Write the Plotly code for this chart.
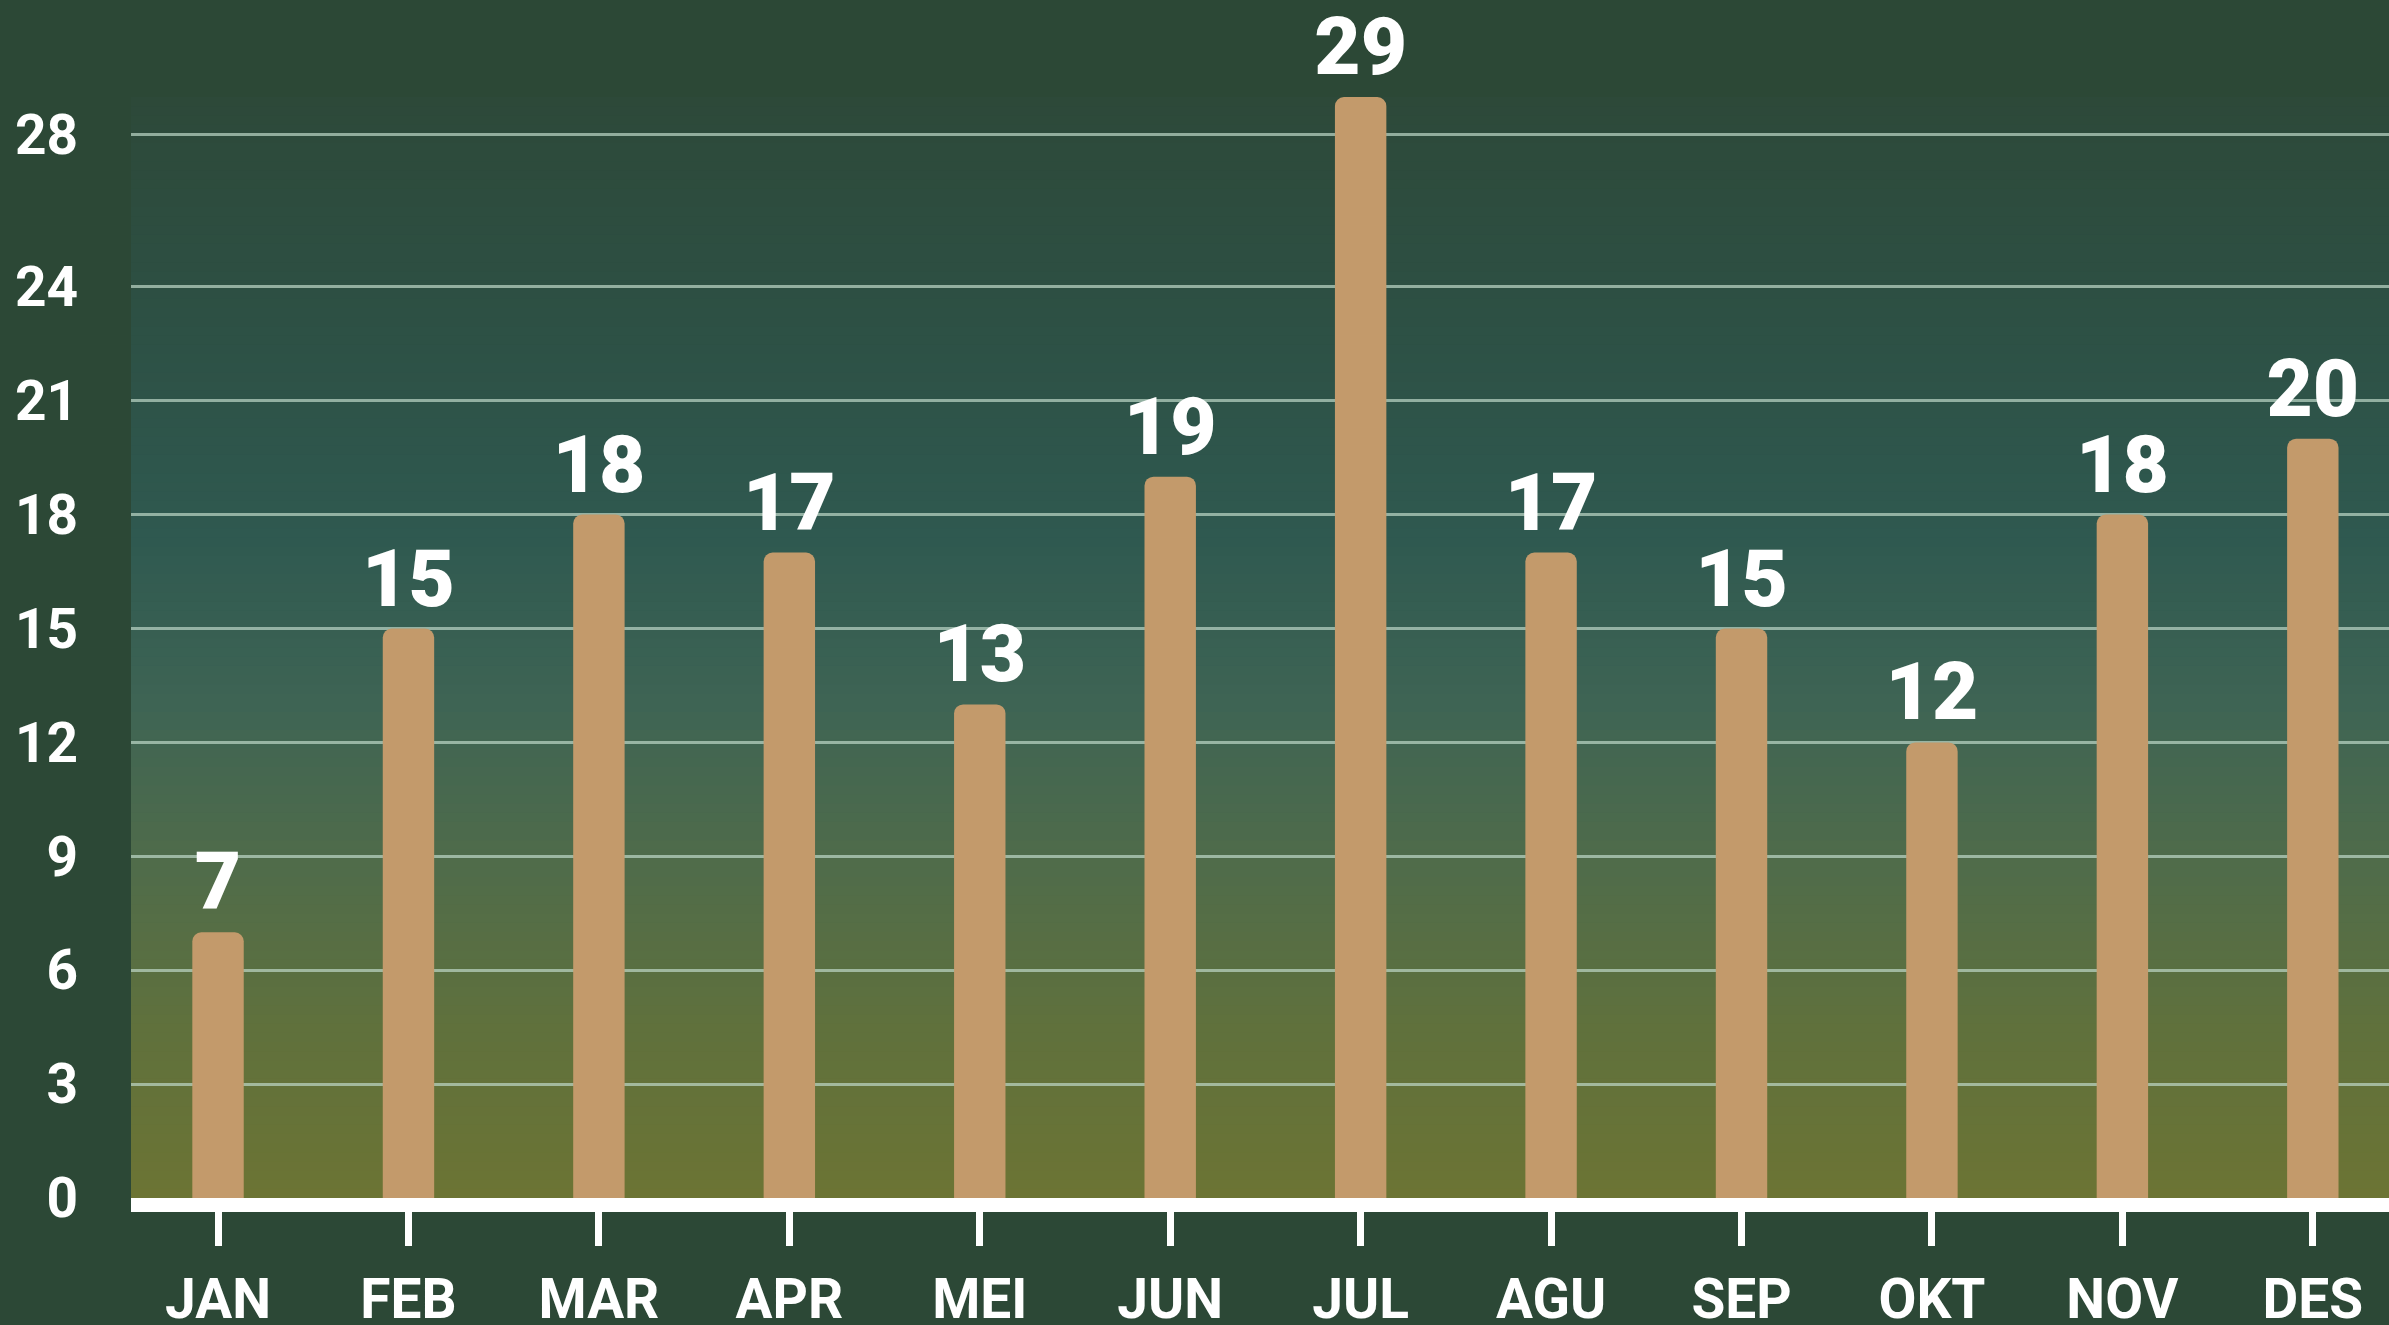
import plotly.graph_objects as go

months = ["JAN", "FEB", "MAR", "APR", "MEI", "JUN", "JUL", "AGU", "SEP", "OKT", "NOV", "DES"]
values = [7, 15, 18, 17, 13, 19, 29, 17, 15, 12, 18, 20]
y_ticks = [0, 3, 6, 9, 12, 15, 18, 21, 24, 28]

PAPER = "rgb(44,72,54)"
BAR = "#C39A6B"

fig = go.Figure()
fig.add_trace(go.Bar(
    x=list(range(len(months))), y=values,
    marker=dict(color=BAR, line=dict(width=0)),
    width=0.27,
    texttemplate="%{y}", textposition="outside",
    textfont=dict(family="Roboto", size=80, color="white", weight=900),
    constraintext="none", cliponaxis=False,
))

# vertical gradient background of the plot area
stops = [
    (0.0, (108, 116, 52)),
    (0.15, (96, 113, 60)),
    (0.3, (80, 108, 74)),
    (0.45, (62, 100, 84)),
    (0.6, (47, 89, 80)),
    (0.8, (45, 80, 68)),
    (1.0, (45, 73, 57)),
]

def col(f):
    for (f0, c0), (f1, c1) in zip(stops[:-1], stops[1:]):
        if f0 <= f <= f1:
            t = (f - f0) / (f1 - f0)
            return "rgb(%d,%d,%d)" % tuple(round(a + (b - a) * t) for a, b in zip(c0, c1))
    return "rgb(%d,%d,%d)" % stops[-1][1]

N = 120
shapes = []
for i in range(N):
    y0 = i / N
    y1 = (i + 1) / N + 0.002
    shapes.append(dict(type="rect", xref="x domain", yref="y domain",
                       x0=0, x1=1, y0=y0, y1=min(y1, 1.0),
                       fillcolor=col((i + 0.5) / N), line=dict(width=0), layer="below"))

fig.update_layout(
    width=2389, height=1325,
    paper_bgcolor=PAPER, plot_bgcolor=PAPER,
    margin=dict(l=131, r=0, t=97, b=127),
    shapes=shapes,
    showlegend=False,
    bargap=0.7,
    barcornerradius=9,
    font=dict(family="Roboto", color="white"),
)
fig.update_xaxes(
    tickmode="array", tickvals=list(range(len(months))), ticktext=months,
    range=[-0.457, 11.40], automargin=False,
    showgrid=False, zeroline=False,
    showline=True, linecolor="white", linewidth=14,
    ticks="outside", ticklen=34, tickwidth=7, tickcolor="white",
    tickfont=dict(family="Roboto", size=55, color="white", weight="bold"),
    ticklabelstandoff=6,
)
fig.update_yaxes(
    range=[0, 29], tickmode="array", tickvals=y_ticks, automargin=False,
    ticktext=[str(v) for v in y_ticks],
    showgrid=True, gridcolor="rgba(190,215,200,0.7)", gridwidth=3,
    zeroline=False, showline=False, ticks="",
    tickfont=dict(family="Roboto", size=55, color="white", weight="bold"),
    ticklabelstandoff=52,
)

fig.write_html(
    "out.html",
    config={"displayModeBar": False},
    post_script="document.body.style.margin='0';document.body.style.overflow='hidden';document.body.style.background='rgb(44,72,54)';",
)
